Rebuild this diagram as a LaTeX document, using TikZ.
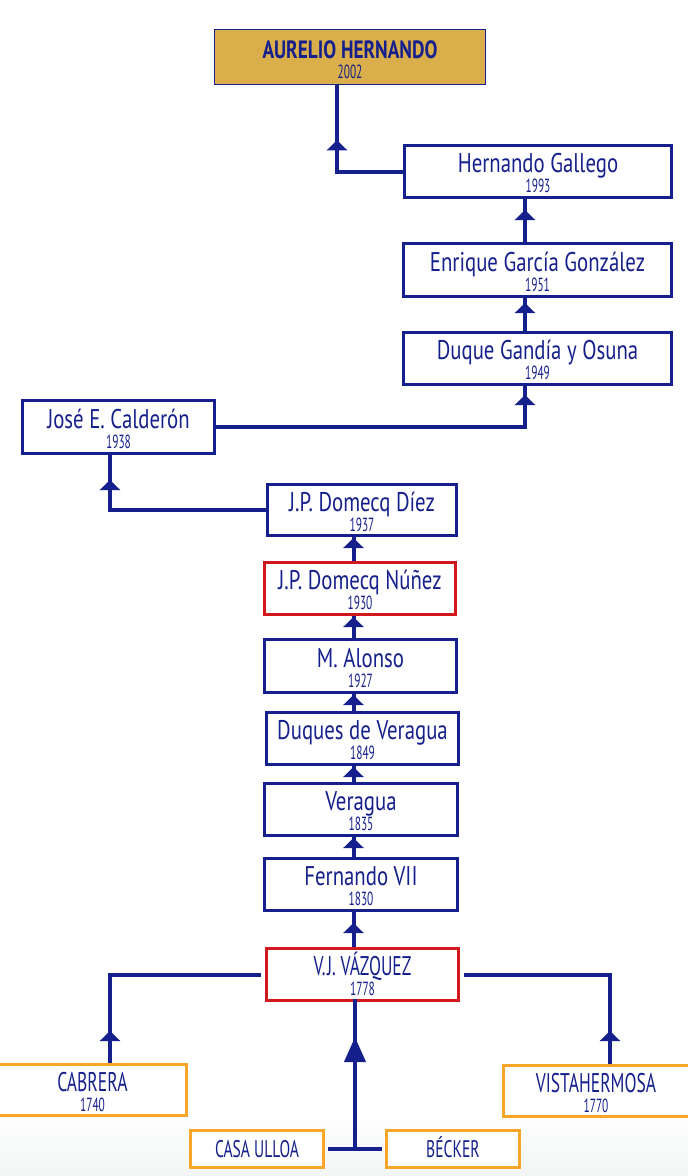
\documentclass[tikz,border=0pt]{standalone}
\usepackage{fontspec}
\setmainfont{PT Sans}
\newfontfamily\namefam{PT Sans}[FakeStretch=0.77]
\newfontfamily\yearfam{PT Sans}[FakeStretch=0.6]
\newfontfamily\capfam{PT Sans}[FakeStretch=0.65]
\usetikzlibrary{arrows.meta,decorations.markings,calc}
\definecolor{navy}{RGB}{22,32,140}
\definecolor{tred}{RGB}{208,24,30}
\definecolor{torange}{RGB}{247,166,40}
\definecolor{tgold}{RGB}{217,174,75}
\newcommand\nmf{\namefam\fontsize{27}{27}\selectfont}
\newcommand\yrf{\yearfam\fontsize{19}{19}\selectfont}
\newcommand\cpf{\capfam\fontsize{27}{27}\selectfont}
\newcommand\smcpf{\capfam\fontsize{24}{24}\selectfont}
\newcommand\twoline[3][\nmf]{\makebox[0pt]{\raisebox{-1pt}[0pt][0pt]{#1#2}}\makebox[0pt]{\raisebox{-21pt}[0pt][0pt]{\yrf #3}}}
\newcommand\oneline[1]{\makebox[0pt]{\raisebox{-8pt}[0pt][0pt]{\smcpf #1}}}
\tikzset{
  box/.style={draw=navy, line width=3pt, fill=white, inner sep=0pt, text=navy, rectangle},
  bluebox/.style={box},
  redbox/.style={box, draw=tred},
  orangebox/.style={box, draw=torange},
  goldbox/.style={box, fill=tgold, line width=1.5pt},
  conn/.style={draw=navy, line width=4pt},
  arrowat/.style={postaction={decorate}, decoration={markings, mark=at position #1 with {\arrow[navy]{Triangle[width=20pt,length=10pt]}}}},
  bigarrowat/.style={postaction={decorate}, decoration={markings, mark=at position #1 with {\arrow[navy]{Triangle[width=21pt,length=25pt]}}}},
}
\begin{document}
\begin{tikzpicture}[x=1pt,y=-1pt]
\useasboundingbox (0,0) rectangle (688,1176);
\shade[top color=white, bottom color={rgb,255:red,243;green,245;blue,245}] (0,1110) rectangle (688,1176);
% guide coordinates
\coordinate (ax) at (337,0);
\coordinate (rx) at (525,0);
\coordinate (cx) at (353.5,0);
\coordinate (lx) at (110,0);
\coordinate (vx) at (610,0);
% nodes
\node[goldbox, minimum width=271pt, minimum height=55pt] (aur) at (350,57) {\twoline[\namefam\bfseries\fontsize{25}{25}\selectfont]{AURELIO HERNANDO}{2002}};
\node[bluebox, minimum width=267pt, minimum height=52pt] (hg) at (538,171.5) {\twoline{Hernando Gallego}{1993}};
\node[bluebox, minimum width=268pt, minimum height=53pt] (egg) at (537.5,270) {\twoline{Enrique García González}{1951}};
\node[bluebox, minimum width=268pt, minimum height=52pt] (dgo) at (537.5,358.5) {\twoline{Duque Gandía y Osuna}{1949}};
\node[bluebox, minimum width=192pt, minimum height=53pt] (jec) at (118.5,427) {\twoline{José E. Calderón}{1938}};
\node[bluebox, minimum width=189pt, minimum height=51pt] (jpd) at (362,510) {\twoline{J.P. Domecq Díez}{1937}};
\node[redbox, minimum width=191pt, minimum height=52pt] (jpn) at (360,588.5) {\twoline{J.P. Domecq Núñez}{1930}};
\node[bluebox, minimum width=192pt, minimum height=53pt] (ma) at (360.5,666) {\twoline{M. Alonso}{1927}};
\node[bluebox, minimum width=192pt, minimum height=52pt] (dv) at (362.5,738.5) {\twoline{Duques de Veragua}{1849}};
\node[bluebox, minimum width=193pt, minimum height=52pt] (ver) at (361,809.5) {\twoline{Veragua}{1835}};
\node[bluebox, minimum width=193pt, minimum height=52pt] (f7) at (361,884.5) {\twoline{Fernando VII}{1830}};
\node[redbox, minimum width=192pt, minimum height=52pt] (vjv) at (362.5,974.5) {\twoline[\cpf]{V.\kern1.5pt J. VÁZQUEZ}{1778}};
\node[orangebox, minimum width=188pt, minimum height=51pt] (cab) at (92.5,1090) {\twoline[\cpf]{CABRERA}{1740}};
\node[orangebox, minimum width=186pt, minimum height=51pt] (vis) at (596,1091) {\twoline[\cpf]{VISTAHERMOSA}{1770}};
\node[orangebox, minimum width=133pt, minimum height=37pt] (cu) at (257,1149) {\oneline{CASA ULLOA}};
\node[orangebox, minimum width=133pt, minimum height=37pt] (bk) at (453,1149) {\oneline{BÉCKER}};
% connectors
\draw[conn, arrowat=-55pt] (hg.west) -| (aur.south -| ax);
\draw[conn, arrowat=-11pt] (egg.north -| rx) -- (hg.south -| rx);
\draw[conn, arrowat=-5pt] (dgo.north -| rx) -- (egg.south -| rx);
\draw[conn, arrowat=-9pt] (jec.east) -| (dgo.south -| rx);
\draw[conn, arrowat=-25pt] (jpd.west) -| (jec.south -| lx);
\draw[conn, arrowat=-1pt] (jpn.north -| cx) -- (jpd.south -| cx);
\draw[conn, arrowat=-1pt] (ma.north -| cx) -- (jpn.south -| cx);
\draw[conn, arrowat=-1pt] (dv.north -| cx) -- (ma.south -| cx);
\draw[conn, arrowat=-1pt] (ver.north -| cx) -- (dv.south -| cx);
\draw[conn, arrowat=-1pt] (f7.north -| cx) -- (ver.south -| cx);
\draw[conn, arrowat=-11pt] (vjv.north -| cx) -- (f7.south -| cx);
\draw[conn, arrowat=32pt] (cab.north -| lx) |- ([xshift=-4pt]vjv.west);
\draw[conn, arrowat=33pt] (vis.north -| vx) |- ([xshift=4pt]vjv.east);
\draw[conn] ([xshift=3pt]cu.east) -- ([xshift=-3pt]bk.west);
\coordinate (j) at ($(cu.east)!0.5!(bk.west)$);
\draw[conn, bigarrowat=112pt] (j) -- ([yshift=3pt]vjv.south -| j);
\end{tikzpicture}
\end{document}
